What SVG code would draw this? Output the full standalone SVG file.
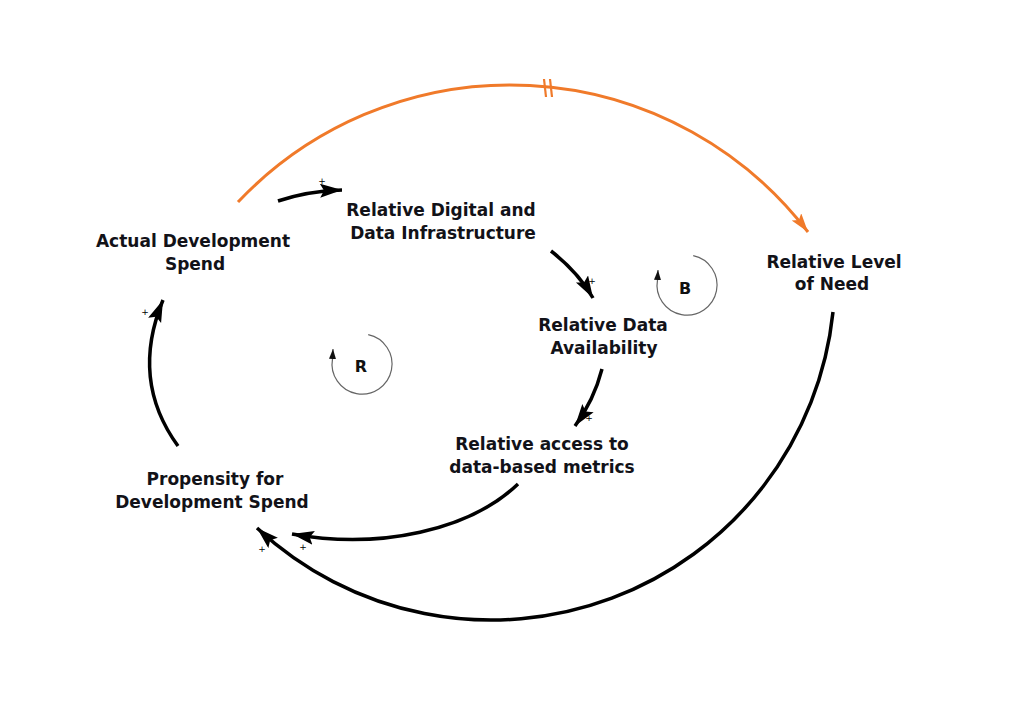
<svg xmlns="http://www.w3.org/2000/svg" width="1024" height="725" viewBox="0 0 1024 725">
<defs>
<style>
.lbl{font-family:"DejaVu Sans","Liberation Sans",sans-serif;font-weight:bold;font-size:17px;fill:#121218;text-anchor:middle}
.pl{font-family:"DejaVu Sans","Liberation Sans",sans-serif;font-size:9px;fill:#000;text-anchor:middle}
.lp{font-family:"DejaVu Sans","Liberation Sans",sans-serif;font-weight:bold;font-size:16px;fill:#111;text-anchor:middle}
.link{fill:none;stroke:#000;stroke-width:3.5;marker-end:url(#ah)}
.delay{fill:none;stroke:#f07a2a;stroke-width:3;marker-end:url(#aho)}
.loop{fill:none;stroke:#666;stroke-width:1.2;marker-end:url(#ahs)}
</style>
<marker id="ah" markerUnits="userSpaceOnUse" markerWidth="26" markerHeight="16" refX="22" refY="7" orient="auto" viewBox="0 0 26 16">
<path d="M0,0 L22,7 L0,14 L4,7 z" fill="#000"/>
</marker>
<marker id="aho" markerUnits="userSpaceOnUse" markerWidth="24" markerHeight="14" refX="19" refY="6" orient="auto" viewBox="0 0 24 14">
<path d="M0,0 L19,6 L0,12 L4,6 z" fill="#f07a2a"/>
</marker>
<marker id="ahs" markerUnits="userSpaceOnUse" markerWidth="12" markerHeight="8" refX="10" refY="3.5" orient="auto" viewBox="0 0 12 8">
<path d="M0,0 L10,3.5 L0,7 z" fill="#111"/>
</marker>
</defs>
<rect width="1024" height="725" fill="#fff"/>
<g id="connectors">
<path class="delay" d="M238,202 A375,375 0 0 1 808,232"/>
<g stroke="#f07a2a" stroke-width="2.2">
<line x1="544" y1="79" x2="546" y2="97"/>
<line x1="550" y1="79" x2="552" y2="97"/>
</g>
<path class="link" d="M278,201 Q308,191 342,190"/>
<path class="link" d="M551,251 Q578,272 593,298"/>
<path class="link" d="M602,369 Q594,400 575,426"/>
<path class="link" d="M518,484 C470,530 380,550 292,534"/>
<path class="link" d="M833,312 A343.7,343.7 0 0 1 257,528"/>
<path class="link" d="M178,446 Q130,380 163,300"/>
<text class="pl" x="322" y="184">+</text>
<text class="pl" x="592" y="284">+</text>
<text class="pl" x="589" y="421">+</text>
<text class="pl" x="303" y="550">+</text>
<text class="pl" x="262" y="552">+</text>
<text class="pl" x="145" y="315">+</text>
</g>
<g id="loop-R">
<path class="loop" d="M368.2,334.7 A30,30 0 1 1 332.5,358.8 L333,349"/>
<text class="lp" x="361" y="372">R</text>
</g>
<g id="loop-B">
<path class="loop" d="M693.2,255.7 A30,30 0 1 1 657.5,279.8 L658,270"/>
<text class="lp" x="685" y="294">B</text>
</g>
<g id="actual-development-spend">
<text class="lbl" x="193" y="247">Actual Development</text>
<text class="lbl" x="195" y="270">Spend</text>
</g>
<g id="relative-digital">
<text class="lbl" x="441" y="216">Relative Digital and</text>
<text class="lbl" x="443" y="239">Data Infrastructure</text>
</g>
<g id="relative-level-of-need">
<text class="lbl" x="834" y="268">Relative Level</text>
<text class="lbl" x="832" y="290">of Need</text>
</g>
<g id="relative-data-availability">
<text class="lbl" x="603" y="331">Relative Data</text>
<text class="lbl" x="604" y="354">Availability</text>
</g>
<g id="relative-access">
<text class="lbl" x="542" y="450">Relative access to</text>
<text class="lbl" x="542" y="473">data-based metrics</text>
</g>
<g id="propensity">
<text class="lbl" x="215" y="485">Propensity for</text>
<text class="lbl" x="212" y="508">Development Spend</text>
</g>
</svg>
